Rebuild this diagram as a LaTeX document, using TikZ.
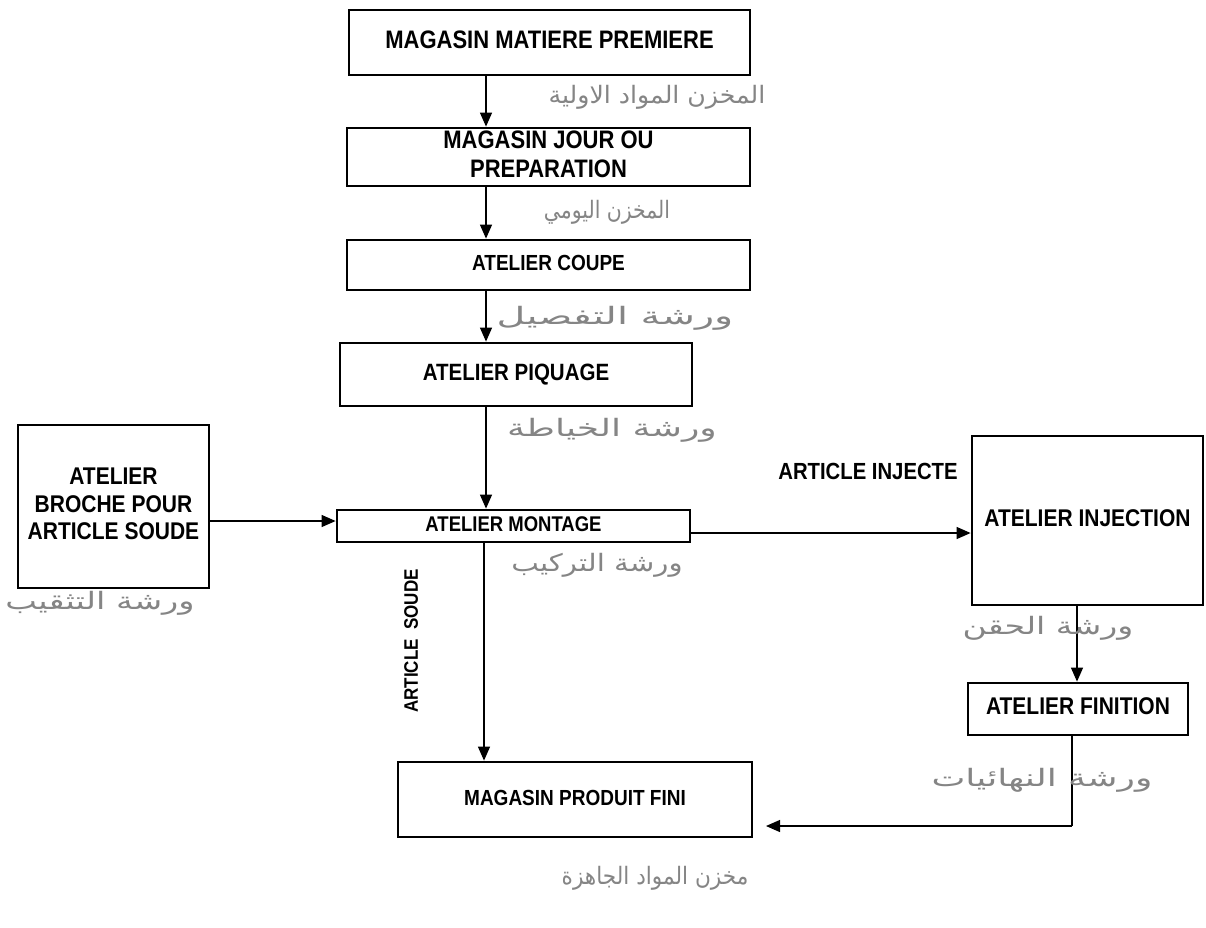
\documentclass[tikz,border=0pt]{standalone}
\usepackage{fontspec}
\usepackage{graphicx}
\setmainfont{Liberation Sans}
\newfontfamily\arabicfont[Script=Arabic]{DejaVu Sans}
\TeXXeTstate=1
\usetikzlibrary{arrows.meta}
\newcommand\bt[1]{\scalebox{1}[1.15]{\begin{tabular}{@{}c@{}}#1\end{tabular}}}
\tikzset{
  box/.style={draw=black, line width=2.8pt, rectangle, align=center, inner sep=0pt},
  fs/.style={font=\fontsize{#1}{25}\selectfont\bfseries},
  arr/.style={draw=black, line width=1.3pt, -{Triangle[length=14pt,width=12pt]}},
  plain/.style={draw=black, line width=1.3pt},
  lbl/.style={inner sep=0pt},
  ar/.style={text=black!48, inner sep=0pt, font=\arabicfont\fontsize{24}{26}\selectfont}
}
\begin{document}
\begin{tikzpicture}[x=1pt,y=-1pt]
\useasboundingbox (0,0) rectangle (1206,927);
\fill[white] (0,0) rectangle (1206,927);

% boxes
\node[box, fs=22, minimum width=401pt, minimum height=65pt] (b1) at (549.5,42.5) {\bt{MAGASIN MATIERE PREMIERE}};
\node[box, fs=22, minimum width=403pt, minimum height=58pt] (b2) at (548.5,157) {\bt{MAGASIN JOUR OU\\PREPARATION}};
\node[box, fs=19, minimum width=403pt, minimum height=50pt] (b3) at (548.5,265) {\bt{ATELIER COUPE}};
\node[box, fs=20.5, minimum width=352pt, minimum height=63pt] (b4) at (516,374.5) {\bt{ATELIER PIQUAGE}};
\node[box, fs=18.5, minimum width=353pt, minimum height=32pt] (b5) at (513.5,526) {\bt{ATELIER MONTAGE}};
\node[box, font=\fontsize{21}{24}\selectfont\bfseries, minimum width=191pt, minimum height=163pt] (bl) at (113.5,506.5) {\bt{ATELIER\\BROCHE POUR\\ARTICLE SOUDE}};
\node[box, fs=21, minimum width=231pt, minimum height=169pt] (binj) at (1087.5,520.5) {\bt{ATELIER INJECTION}};
\node[box, fs=21, minimum width=220pt, minimum height=52pt] (bfin) at (1078,709) {\bt{ATELIER FINITION}};
\node[box, fs=19, minimum width=354pt, minimum height=75pt] (bpf) at (575,799.5) {\bt{MAGASIN PRODUIT FINI}};

% reference coordinates for connectors
\coordinate (ax) at (486,0);
\coordinate (mx) at (484,0);
\coordinate (ly) at (0,521);
\coordinate (ry) at (0,533);
\coordinate (fx) at (1077,0);
\coordinate (corner) at (1072,826);
\coordinate (pfin) at (766,826);

% connectors
\draw[arr] (b1.south -| ax) -- (b2.north -| ax);
\draw[arr] (b2.south -| ax) -- (b3.north -| ax);
\draw[arr] (b3.south -| ax) -- (b4.north -| ax);
\draw[arr] (b4.south -| ax) -- (b5.north -| ax);
\draw[arr] (bl.east |- ly) -- (b5.west |- ly);
\draw[arr] (b5.east |- ry) -- (binj.west |- ry);
\draw[arr] (b5.south -| mx) -- (bpf.north -| mx);
\draw[arr] (binj.south -| fx) -- (bfin.north -| fx);
\draw[plain] (bfin.south -| corner) -- (corner);
\draw[arr] (corner) -- (pfin);

% connector labels
\node[lbl, fs=20.3] (lij) at (868,474) {\bt{ARTICLE INJECTE}};
\node[lbl, fs=17, rotate=90] (lsd) at (412,641) {\bt{ARTICLE\ \ SOUDE}};

% handwritten Arabic annotations
\node[ar] (a1) at (657,97) {\scalebox{1.05}[1]{\beginR المخزن المواد الاولية\endR}};
\node[ar] (a2) at (607,212) {\scalebox{0.85}[1]{\beginR المخزن اليومي\endR}};
\node[ar] (a3) at (615,318) {\scalebox{1.65}[1]{\beginR ورشة التفصيل\endR}};
\node[ar] (a4) at (612,430) {\scalebox{1.5}[1]{\beginR ورشة الخياطة\endR}};
\node[ar] (a5) at (597,565) {\scalebox{1.22}[1]{\beginR ورشة التركيب\endR}};
\node[ar] (a6) at (100,603) {\scalebox{1.4}[1]{\beginR ورشة التثقيب\endR}};
\node[ar] (a7) at (1048,628) {\scalebox{1.38}[1]{\beginR ورشة الحقن\endR}};
\node[ar] (a8) at (1042,780) {\scalebox{1.5}[1]{\beginR ورشة النهائيات\endR}};
\node[ar] (a9) at (655,878) {\scalebox{0.9}[1]{\beginR مخزن المواد الجاهزة\endR}};
\end{tikzpicture}
\end{document}
